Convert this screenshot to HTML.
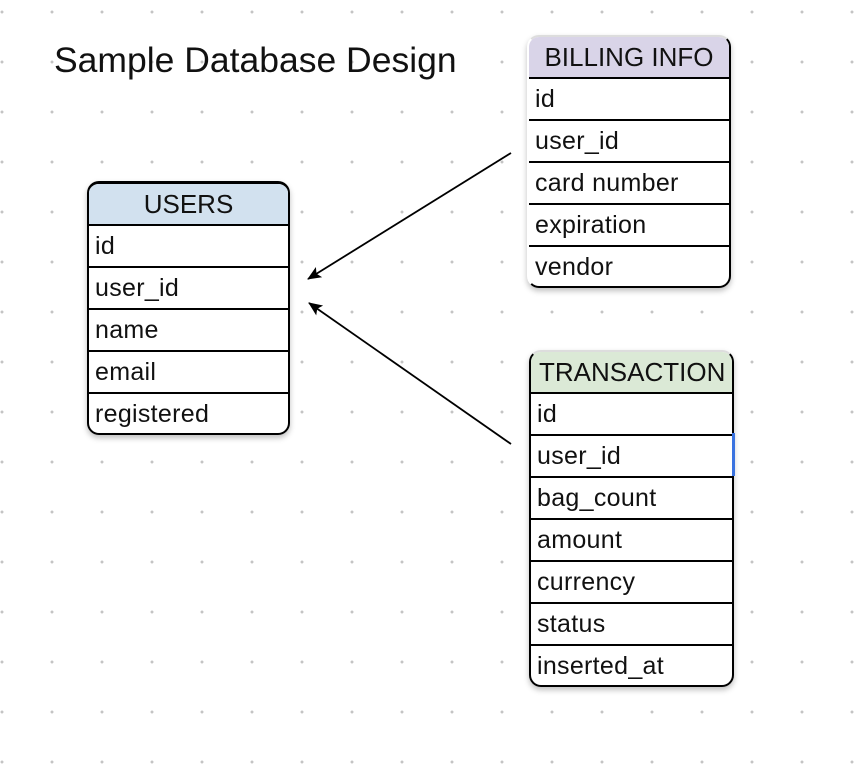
<!DOCTYPE html>
<html><head><meta charset="utf-8"><style>
html,body{margin:0;padding:0;}
body{width:854px;height:774px;position:relative;overflow:hidden;background:#fff;
background-image:radial-gradient(circle,#c4c4c4 1.3px,transparent 1.6px);
background-size:50px 50px;background-position:-23px -13px;
font-family:"Liberation Sans",Arial,sans-serif;}
.title{position:absolute;left:54px;top:40px;font-size:35.5px;color:#111;white-space:nowrap;}
.t{position:absolute;border-radius:12px;box-shadow:0 3px 6px rgba(0,0,0,0.25);background:#fff;overflow:hidden;box-sizing:border-box;border:2px solid #000;}
.h{height:40px;line-height:41px;text-align:center;font-size:26px;border-bottom:2px solid #000;color:#111;white-space:nowrap;}
.r{height:40px;line-height:40px;font-size:25px;letter-spacing:0.3px;padding-left:6px;border-bottom:2px solid #000;color:#111;white-space:nowrap;}
.r:last-child{border-bottom:none;}
</style></head><body>
<div class="title">Sample Database Design</div>

<div class="t" style="left:87px;top:181px;width:203px;height:254px;border-top-width:3px;">
<div class="h" style="background:#d2e1ef;">USERS</div>
<div class="r">id</div><div class="r">user_id</div><div class="r">name</div><div class="r">email</div><div class="r">registered</div>
</div>

<div class="t" style="left:527px;top:35px;width:204px;height:253px;border-top-color:#ddd;border-left-color:#fff;">
<div class="h" style="background:#d9d4e8;">BILLING INFO</div>
<div class="r">id</div><div class="r">user_id</div><div class="r">card number</div><div class="r">expiration</div><div class="r">vendor</div>
</div>

<div class="t" style="left:529px;top:350px;width:205px;height:337px;border-top-color:#ddd;">
<div class="h" style="background:#dbe9d6;text-align:left;padding-left:8px;">TRANSACTION</div>
<div class="r">id</div><div class="r">user_id</div><div class="r">bag_count</div><div class="r">amount</div><div class="r">currency</div><div class="r">status</div><div class="r">inserted_at</div>
</div>
<div style="position:absolute;left:732px;top:433px;width:3px;height:43px;background:#3a73e0;"></div>

<svg width="854" height="774" style="position:absolute;left:0;top:0;" xmlns="http://www.w3.org/2000/svg">
<defs><marker id="a" markerWidth="14" markerHeight="12" refX="13" refY="6" orient="auto" markerUnits="userSpaceOnUse"><path d="M0,0 L14,6 L0,12 L3,6 Z" fill="#000"/></marker></defs>
<line x1="511" y1="153" x2="308" y2="279" stroke="#000" stroke-width="1.8" marker-end="url(#a)"/>
<line x1="511" y1="444" x2="309" y2="303" stroke="#000" stroke-width="1.8" marker-end="url(#a)"/>
</svg>
</body></html>
